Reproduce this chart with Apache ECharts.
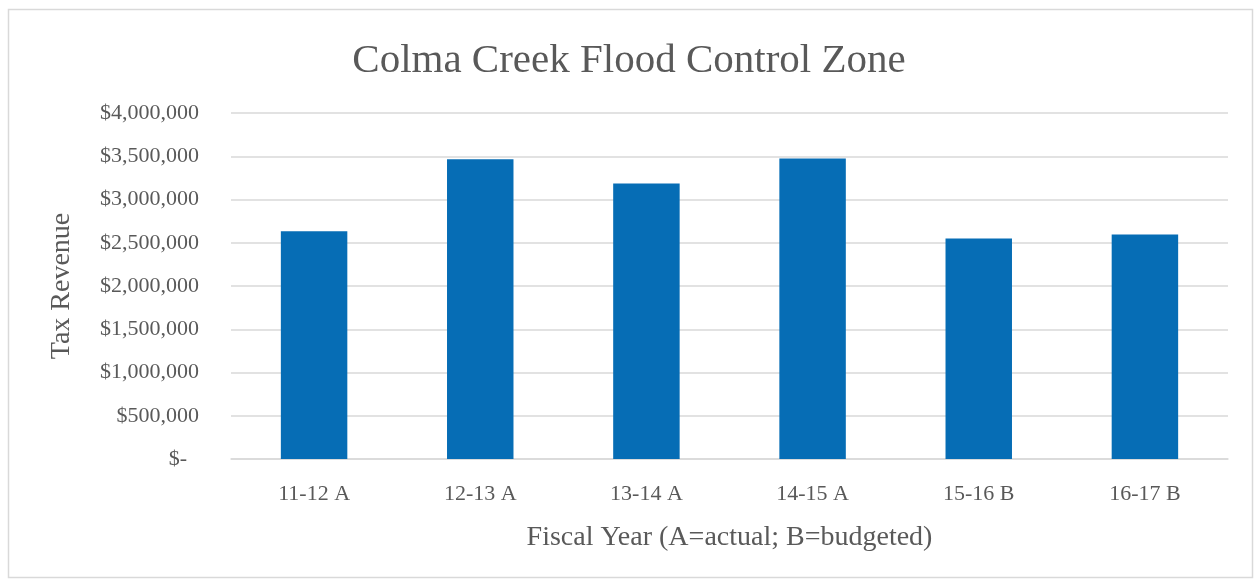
<!DOCTYPE html>
<html lang="en">
<head>
    <meta charset="UTF-8">
    <title>Colma Creek Flood Control Zone</title>
    <style>
      * { padding: 0; margin: 0; }
      body { background: #fff; }
    </style>
</head>
<body>
    <div id="main" style="width: 1258px;height:581px;"></div>
    <script src="https://cdn.jsdelivr.net/npm/echarts@6/dist/echarts.min.js"></script>
    <script>
    var categories = ['11-12 A', '12-13 A', '13-14 A', '14-15 A', '15-16 B', '16-17 B'];
    var revenue = [2633000, 3466000, 3185000, 3474000, 2549000, 2595000];
    var yTicks = [0, 4000000, 500000]; // min, max, interval

    var font = '"Liberation Serif", "DejaVu Serif", serif';
    var grey = '#595959';

    var option = {
        backgroundColor: '#fff',
        animation: false,
        title: {
            text: 'Colma Creek Flood Control Zone',
            left: 'center',
            top: 36,
            textStyle: { fontFamily: font, fontSize: 41, fontWeight: 'normal', color: grey }
        },
        graphic: [{
            type: 'rect',
            shape: { x: 8.5, y: 9.5, width: 1244, height: 568 },
            style: { fill: 'none', stroke: '#d9d9d9', lineWidth: 1.5 },
            silent: true
        }],
        grid: { left: 231, right: 30, top: 113, bottom: 122 },
        xAxis: {
            type: 'category',
            data: categories,
            name: 'Fiscal Year (A=actual; B=budgeted)',
            nameLocation: 'middle',
            nameGap: 65,
            nameTextStyle: { fontFamily: font, fontSize: 28, color: grey },
            axisLine: { lineStyle: { color: '#d9d9d9', width: 1.5 } },
            axisTick: { show: false },
            axisLabel: { fontFamily: font, fontSize: 22, color: grey, margin: 24 }
        },
        yAxis: {
            type: 'value',
            min: yTicks[0],
            max: yTicks[1],
            interval: yTicks[2],
            name: 'Tax Revenue',
            nameLocation: 'middle',
            nameGap: 155,
            nameTextStyle: { fontFamily: font, fontSize: 28, color: grey },
            axisLine: { show: false },
            axisTick: { show: false },
            splitLine: { lineStyle: { color: '#d9d9d9', width: 1.5 } },
            axisLabel: {
                fontFamily: font, fontSize: 22, color: grey, margin: 32,
                formatter: function (v) {
                    if (v === 0) return '{z|$-}';
                    return '$' + v.toLocaleString('en-US');
                },
                rich: { z: { fontFamily: font, fontSize: 22, color: grey, padding: [0, 12, 0, 0] } }
            }
        },
        series: [{
            type: 'bar',
            data: revenue,
            barWidth: '40%',
            itemStyle: { color: '#066db5' }
        }]
    };

    var myChart = echarts.init(document.getElementById('main'));
    myChart.setOption(option);
    </script>
</body>
</html>
